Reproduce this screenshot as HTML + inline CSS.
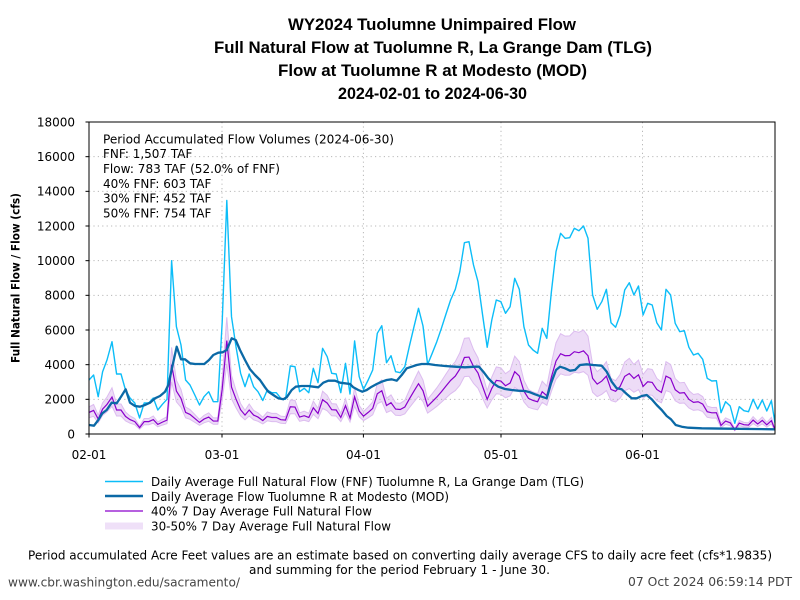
<!DOCTYPE html>
<html><head><meta charset="utf-8"><style>
html,body{margin:0;padding:0;background:#fff;}
svg{display:block;}
text{font-family:"DejaVu Sans","Liberation Sans",sans-serif;fill:#000;}
.t{font-family:"Liberation Sans","DejaVu Sans",sans-serif;font-weight:bold;font-size:17px;}
</style></head><body>
<svg width="800" height="600" viewBox="0 0 800 600" xmlns="http://www.w3.org/2000/svg">
<defs>
<clipPath id="pc"><rect x="89" y="122" width="686" height="312"/></clipPath>
<polyline id="fnf" vector-effect="non-scaling-stroke" fill="none" points="89,380 93.6,375 98.2,396.7 102.6,371.7 107,360 112,341.7 116.6,374 121,374 125.5,390 130,398 134.8,403 139.6,418 144.2,403 148.8,403 153.3,398 157.8,410 162.4,404.3 167,399.3 171.6,260.7 176.4,326.7 181,345 185.6,380 190,385 194.8,395 199.5,405 204,396.7 208.7,391.7 213.3,401.7 217.8,401.7 222.2,322 226.8,200.5 231.5,316.7 236,346.7 240.6,373.3 245,386.7 249.2,374 253.6,386.7 258,391.7 262.8,400.5 267.3,390 271.8,392.7 276.3,392.7 280.8,398.3 285.5,399.3 290.3,366 295,366.7 299.6,391.7 304.2,388.3 308.8,392.7 313.3,368.3 318,382.7 322.6,348.3 327.2,356.7 331.7,373.3 336.2,374 340.8,392.7 345.5,363.3 350,394 354.6,341 359.2,376.7 363.5,389.3 368.2,380 372.7,370 377.3,333.3 381.8,325.7 386.5,362.7 391,355.7 395.6,371.7 400.2,372.7 404.8,366.7 409.5,345.7 414,326.7 418.5,308.3 423,326 427.6,364.5 432.2,353.3 436.8,341.7 441.4,328.3 446,314 450.6,300 455.3,289.3 459.8,271.7 464.4,242.7 469,241.7 473.5,265 478,281.7 482.6,315 487.2,347.3 491.8,320 496.3,300 500.9,301.7 505.5,313.3 510.1,306.7 514.7,278.3 519.3,289.3 523.9,326.7 528.5,345 533,350 537.6,353.3 542.2,328.3 546.8,338.3 551.4,291.7 556,251.7 560.6,233.3 565.1,238.3 569.7,237.7 574.3,228.3 578.9,230.7 583.5,226 588,238.3 592.6,295 597.2,309.3 601.8,301.7 606.4,289.3 611,322.7 615.6,327.3 620.1,315 624.7,290 629.3,282.7 633.9,295 638.5,286 643.1,315 647.7,303.3 652.2,305 656.8,322.7 661.4,330 666,289.3 670.6,295 675.2,323.3 679.7,331.7 684.3,330.7 688.9,347.3 693.5,355 698.1,353.3 702.7,359.3 707.2,378.3 711.8,381 716.4,380.7 721,412.7 725.6,401.7 730.2,406 734.8,423.3 739.3,406.7 743.9,410.7 748.5,411.7 753.1,399.3 757.7,409 762.3,400 766.8,411 771.4,400.7 775,423.3"/>
<polygon id="fnfa" points="89,380 93.6,375 98.2,396.7 102.6,371.7 107,360 112,341.7 116.6,374 121,374 125.5,390 130,398 134.8,403 139.6,418 144.2,403 148.8,403 153.3,398 157.8,410 162.4,404.3 167,399.3 171.6,260.7 176.4,326.7 181,345 185.6,380 190,385 194.8,395 199.5,405 204,396.7 208.7,391.7 213.3,401.7 217.8,401.7 222.2,322 226.8,200.5 231.5,316.7 236,346.7 240.6,373.3 245,386.7 249.2,374 253.6,386.7 258,391.7 262.8,400.5 267.3,390 271.8,392.7 276.3,392.7 280.8,398.3 285.5,399.3 290.3,366 295,366.7 299.6,391.7 304.2,388.3 308.8,392.7 313.3,368.3 318,382.7 322.6,348.3 327.2,356.7 331.7,373.3 336.2,374 340.8,392.7 345.5,363.3 350,394 354.6,341 359.2,376.7 363.5,389.3 368.2,380 372.7,370 377.3,333.3 381.8,325.7 386.5,362.7 391,355.7 395.6,371.7 400.2,372.7 404.8,366.7 409.5,345.7 414,326.7 418.5,308.3 423,326 427.6,364.5 432.2,353.3 436.8,341.7 441.4,328.3 446,314 450.6,300 455.3,289.3 459.8,271.7 464.4,242.7 469,241.7 473.5,265 478,281.7 482.6,315 487.2,347.3 491.8,320 496.3,300 500.9,301.7 505.5,313.3 510.1,306.7 514.7,278.3 519.3,289.3 523.9,326.7 528.5,345 533,350 537.6,353.3 542.2,328.3 546.8,338.3 551.4,291.7 556,251.7 560.6,233.3 565.1,238.3 569.7,237.7 574.3,228.3 578.9,230.7 583.5,226 588,238.3 592.6,295 597.2,309.3 601.8,301.7 606.4,289.3 611,322.7 615.6,327.3 620.1,315 624.7,290 629.3,282.7 633.9,295 638.5,286 643.1,315 647.7,303.3 652.2,305 656.8,322.7 661.4,330 666,289.3 670.6,295 675.2,323.3 679.7,331.7 684.3,330.7 688.9,347.3 693.5,355 698.1,353.3 702.7,359.3 707.2,378.3 711.8,381 716.4,380.7 721,412.7 725.6,401.7 730.2,406 734.8,423.3 739.3,406.7 743.9,410.7 748.5,411.7 753.1,399.3 757.7,409 762.3,400 766.8,411 771.4,400.7 775,423.3 775,434 89,434"/>
</defs>

<!-- Title -->
<text class="t" x="432" y="30" text-anchor="middle" textLength="288" lengthAdjust="spacingAndGlyphs">WY2024 Tuolumne Unimpaired Flow</text>
<text class="t" x="433" y="53" text-anchor="middle" textLength="438" lengthAdjust="spacingAndGlyphs">Full Natural Flow at Tuolumne R, La Grange Dam (TLG)</text>
<text class="t" x="432.5" y="76" text-anchor="middle" textLength="309" lengthAdjust="spacingAndGlyphs">Flow at Tuolumne R at Modesto (MOD)</text>
<text class="t" x="432.5" y="99" text-anchor="middle" textLength="189" lengthAdjust="spacingAndGlyphs">2024-02-01 to 2024-06-30</text>

<!-- plot background -->
<rect x="89" y="122" width="686" height="312" fill="#fff"/>

<g clip-path="url(#pc)">
  <use href="#fnfa" transform="matrix(1 0 0 0.5 0 217)" fill="#eddcf7"/>
  <use href="#fnfa" transform="matrix(1 0 0 0.3 0 303.8)" fill="#ffffff"/>
</g>

<!-- gridlines -->
<g stroke="#b8b8b8" stroke-width="1" stroke-dasharray="1.2,3.2" fill="none">
  <line x1="89" y1="399.33" x2="775" y2="399.33"/>
  <line x1="89" y1="364.67" x2="775" y2="364.67"/>
  <line x1="89" y1="330" x2="775" y2="330"/>
  <line x1="89" y1="295.33" x2="775" y2="295.33"/>
  <line x1="89" y1="260.67" x2="775" y2="260.67"/>
  <line x1="89" y1="226" x2="775" y2="226"/>
  <line x1="89" y1="191.33" x2="775" y2="191.33"/>
  <line x1="89" y1="156.67" x2="775" y2="156.67"/>
  <line x1="222" y1="122" x2="222" y2="434"/>
  <line x1="363.4" y1="122" x2="363.4" y2="434"/>
  <line x1="501" y1="122" x2="501" y2="434"/>
  <line x1="642.5" y1="122" x2="642.5" y2="434"/>
</g>

<g clip-path="url(#pc)">
  <use href="#fnf" transform="matrix(1 0 0 0.5 0 217)" stroke="#dcbcef" stroke-width="1"/>
  <use href="#fnf" transform="matrix(1 0 0 0.3 0 303.8)" stroke="#dcbcef" stroke-width="1"/>
  <use href="#fnf" transform="matrix(1 0 0 0.4 0 260.4)" stroke="#8a00cc" stroke-width="1.2"/>
  <use href="#fnf" stroke="#0cbdf8" stroke-width="1.4" stroke-linejoin="round"/>
  <polyline fill="none" stroke="#0b69a6" stroke-width="2.3" stroke-linejoin="round" points="89,425 94,425.7 98.3,420 102.3,413.3 106.7,410 111.7,402.7 116.7,403.3 121,396.7 125.7,389.3 130,402.7 135,406 140,406.7 145,405 150,402.7 155,398.3 160,396 165,391.7 168.3,385 172.3,366.7 176.7,346.7 181,359.3 185,359.3 190,363.3 195,364 200,364 204.3,364 209,360 213.3,355 218.3,352.7 222.7,352.3 226.7,350 231.7,338.3 235.7,340 240,350 245,360 250,369.3 255,375 260,380 265,387.3 268.3,391.7 273.3,395 278.3,398.3 283.3,399.3 286.7,397.3 291.7,390 295.7,386.7 301.7,386 308.3,386 313.3,386.7 318.3,387.3 323.3,382.7 328.3,380.7 335,380.7 340,382.7 345,383.3 350,384 353.3,387.3 358.3,390 362.3,391.7 366.7,390 371.7,386.7 376.7,384 381.7,381.7 386.7,380 391.7,379.3 396.7,380.7 401.7,375 406.7,368.3 411.7,366.7 416.7,365 421.7,364 428.3,364 435,365 445,366 455,366.7 465,367.3 475,366.7 479,366.7 483.3,371.7 488.3,378.3 493.3,383.3 498.3,386.7 505,389 511.7,390 518.3,390.7 525,391 530,392.3 535,394.3 541.7,396.7 546.7,398.3 551,383.3 556,370 560,366.7 565,368.3 570,370.7 575,370 580,365 586.7,364.3 593.3,365 601.7,365.7 606.7,371.7 611.7,381.7 616.7,388.3 621.7,389.3 626.7,394 631.7,398.3 636.7,398.3 641.7,396 646.7,395 651.7,399.3 656.7,405 661.7,410 666.7,416 671,419.3 675.7,425 681.7,426.7 688.3,427.7 701.7,428.3 728.3,428.7 775,429.3"/>
</g>

<!-- frame -->
<rect x="89" y="122" width="686" height="312" fill="none" stroke="#000" stroke-width="1"/>

<!-- ticks -->
<g stroke="#000" stroke-width="1">
  <line x1="85.5" y1="434" x2="89" y2="434"/>
  <line x1="85.5" y1="399.33" x2="89" y2="399.33"/>
  <line x1="85.5" y1="364.67" x2="89" y2="364.67"/>
  <line x1="85.5" y1="330" x2="89" y2="330"/>
  <line x1="85.5" y1="295.33" x2="89" y2="295.33"/>
  <line x1="85.5" y1="260.67" x2="89" y2="260.67"/>
  <line x1="85.5" y1="226" x2="89" y2="226"/>
  <line x1="85.5" y1="191.33" x2="89" y2="191.33"/>
  <line x1="85.5" y1="156.67" x2="89" y2="156.67"/>
  <line x1="85.5" y1="122" x2="89" y2="122"/>
  <line x1="89" y1="434" x2="89" y2="437.5"/>
  <line x1="222" y1="434" x2="222" y2="437.5"/>
  <line x1="363.4" y1="434" x2="363.4" y2="437.5"/>
  <line x1="501" y1="434" x2="501" y2="437.5"/>
  <line x1="642.5" y1="434" x2="642.5" y2="437.5"/>
</g>
<g font-size="12" text-anchor="end">
  <text x="75" y="438.4">0</text>
  <text x="75" y="403.7">2000</text>
  <text x="75" y="369.1">4000</text>
  <text x="75" y="334.4">6000</text>
  <text x="75" y="299.7">8000</text>
  <text x="75" y="265.1">10000</text>
  <text x="75" y="230.4">12000</text>
  <text x="75" y="195.7">14000</text>
  <text x="75" y="161.1">16000</text>
  <text x="75" y="126.4">18000</text>
</g>
<g font-size="12" text-anchor="middle">
  <text x="89" y="459">02-01</text>
  <text x="222" y="459">03-01</text>
  <text x="363.4" y="459">04-01</text>
  <text x="501" y="459">05-01</text>
  <text x="642.5" y="459">06-01</text>
</g>

<text transform="translate(19.5,278) rotate(-90)" text-anchor="middle" font-family="Liberation Sans, DejaVu Sans, sans-serif" font-weight="bold" font-size="11.5" textLength="170" lengthAdjust="spacingAndGlyphs">Full Natural Flow / Flow (cfs)</text>

<g font-size="12">
  <text x="103" y="143.3" textLength="291" lengthAdjust="spacingAndGlyphs">Period Accumulated Flow Volumes (2024-06-30)</text>
  <text x="103" y="158.2">FNF: 1,507 TAF</text>
  <text x="103" y="173" textLength="177" lengthAdjust="spacingAndGlyphs">Flow: 783 TAF (52.0% of FNF)</text>
  <text x="103" y="187.8">40% FNF: 603 TAF</text>
  <text x="103" y="202.7">30% FNF: 452 TAF</text>
  <text x="103" y="217.5">50% FNF: 754 TAF</text>
</g>

<line x1="105" y1="481.5" x2="143" y2="481.5" stroke="#0cbdf8" stroke-width="1.5"/>
<line x1="105" y1="496" x2="143" y2="496" stroke="#0b69a6" stroke-width="2.5"/>
<line x1="105" y1="511" x2="143" y2="511" stroke="#8a00cc" stroke-width="1.2"/>
<rect x="105" y="522.5" width="38" height="7" fill="#efe0f8"/>
<g font-size="12">
  <text x="151" y="486" textLength="433" lengthAdjust="spacingAndGlyphs">Daily Average Full Natural Flow (FNF) Tuolumne R, La Grange Dam (TLG)</text>
  <text x="151" y="500.8" textLength="298" lengthAdjust="spacingAndGlyphs">Daily Average Flow Tuolumne R at Modesto (MOD)</text>
  <text x="151" y="515.7" textLength="221" lengthAdjust="spacingAndGlyphs">40% 7 Day Average Full Natural Flow</text>
  <text x="151" y="530.7" textLength="240" lengthAdjust="spacingAndGlyphs">30-50% 7 Day Average Full Natural Flow</text>
</g>

<g font-size="12" text-anchor="middle">
  <text x="400" y="559.3" textLength="744" lengthAdjust="spacingAndGlyphs">Period accumulated Acre Feet values are an estimate based on converting daily average CFS to daily acre feet (cfs*1.9835)</text>
  <text x="399.5" y="574" textLength="301" lengthAdjust="spacingAndGlyphs">and summing for the period February 1 - June 30.</text>
</g>
<text x="8" y="586.5" font-size="12" style="fill:#444" textLength="232" lengthAdjust="spacingAndGlyphs">www.cbr.washington.edu/sacramento/</text>
<text x="792" y="586" font-size="12" text-anchor="end" style="fill:#444" textLength="164" lengthAdjust="spacingAndGlyphs">07 Oct 2024 06:59:14 PDT</text>
</svg>
</body></html>
